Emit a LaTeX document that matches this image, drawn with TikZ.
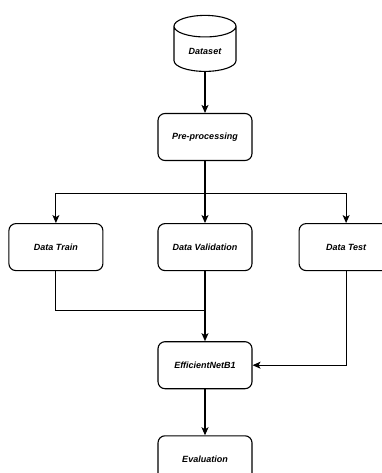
\documentclass[tikz,border=0pt]{standalone}
\usepackage{fontspec}
\setmainfont{Liberation Sans}
\usetikzlibrary{arrows.meta,positioning,shapes.geometric}

\begin{document}
\begin{tikzpicture}[
    x=1pt, y=-1pt,
    stage/.style={draw, line width=1.1pt, rounded corners=7pt, align=center, minimum width=94pt, minimum height=47pt, font=\fontsize{9}{11}\selectfont\bfseries\itshape},
    store/.style={draw, line width=1.1pt, cylinder, shape border rotate=90, aspect=0.55, minimum width=62pt, minimum height=56pt, font=\fontsize{9}{11}\selectfont\bfseries\itshape},
    arrow/.style={-{Stealth[length=8pt, width=7pt, inset=2pt]}, line width=1.1pt},
    link/.style={line width=1.1pt}
  ]
    \useasboundingbox (0,0) rectangle (382,473);
    \clip (0,0) rectangle (382,473);

    \node[stage] (prep) at (205,137) {Pre-processing};
    \node[store, above=41pt of prep] (dataset) {Dataset};
    \node[stage, below=62pt of prep] (valid) {Data Validation};
    \node[stage, left=54pt of valid] (train) {Data Train};
    \node[stage, right=46pt of valid] (test) {Data Test};
    \node[stage, below=70pt of valid] (model) {EfficientNetB1};
    \node[stage, below=46pt of model] (eval) {Evaluation};

    \coordinate[below=32pt of prep.south] (split);
    \coordinate[below=39pt of valid.south] (merge);

    \draw[arrow] (dataset) -- (prep);
    \draw[arrow] (prep) -- (valid);
    \draw[arrow] (split) -| (train);
    \draw[arrow] (split) -| (test);
    \draw[link] (train.south) |- (merge);
    \draw[arrow] (valid) -- (model);
    \draw[arrow] (test.south) |- (model.east);
    \draw[arrow] (model) -- (eval);
  \end{tikzpicture}
\end{document}
